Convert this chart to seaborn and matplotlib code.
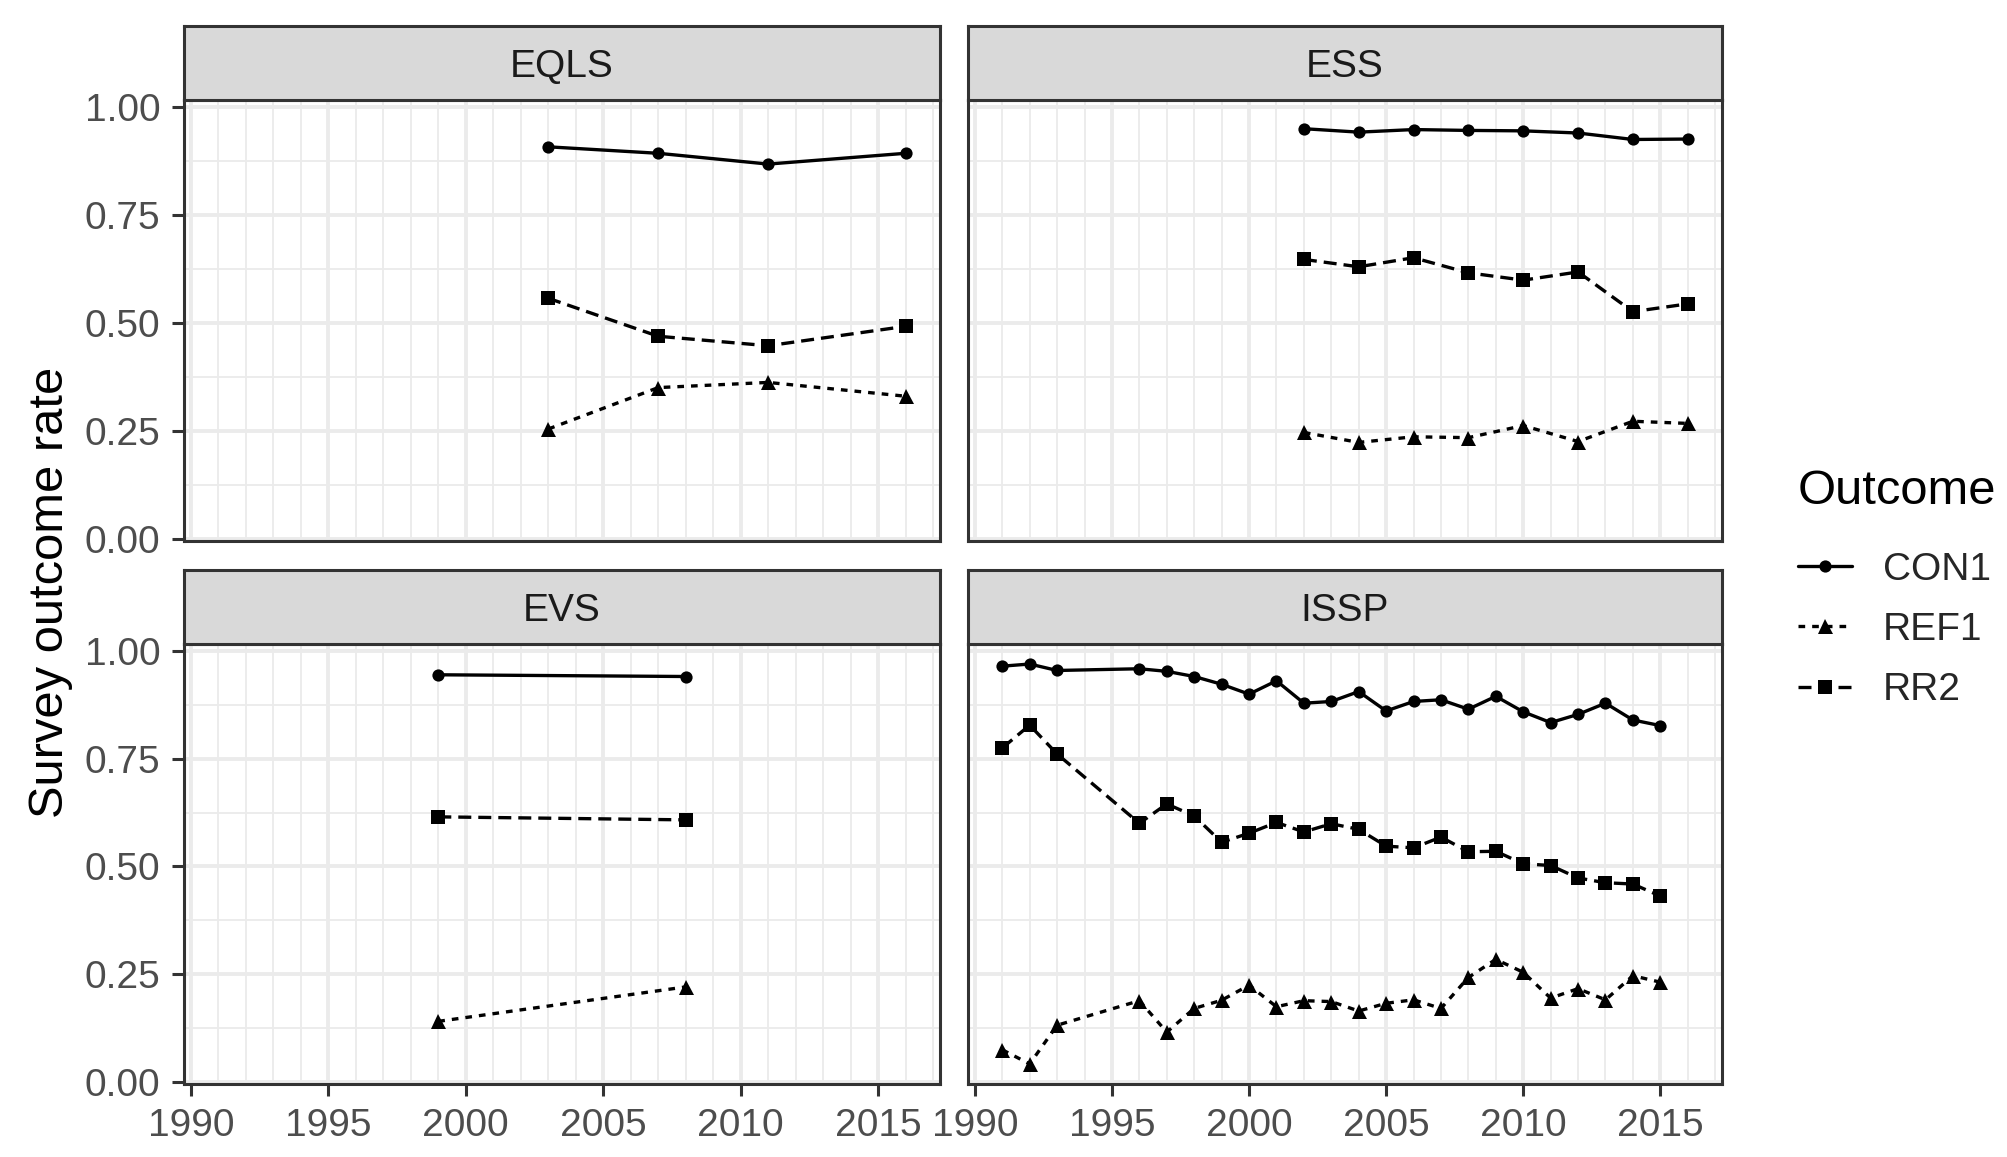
import numpy as np
import pandas as pd
import matplotlib
matplotlib.use("Agg")
import matplotlib.pyplot as plt
import seaborn as sns
from matplotlib.ticker import MultipleLocator, FixedLocator
from matplotlib.lines import Line2D

# valores
eqls_years = [2003, 2007, 2011, 2016]
eqls_con1 = [0.908, 0.893, 0.868, 0.893]
eqls_ref1 = [0.254, 0.350, 0.362, 0.330]
eqls_rr2 = [0.557, 0.469, 0.447, 0.492]

ess_years = [2002, 2004, 2006, 2008, 2010, 2012, 2014, 2016]
ess_con1 = [0.950, 0.942, 0.948, 0.946, 0.945, 0.940, 0.925, 0.926]
ess_ref1 = [0.246, 0.223, 0.236, 0.234, 0.262, 0.225, 0.272, 0.267]
ess_rr2 = [0.647, 0.630, 0.651, 0.616, 0.599, 0.618, 0.526, 0.544]

evs_years = [1999, 2008]
evs_con1 = [0.945, 0.941]
evs_ref1 = [0.140, 0.220]
evs_rr2 = [0.615, 0.608]

issp_years = [1991, 1992, 1993, 1996, 1997, 1998, 1999, 2000, 2001, 2002, 2003,
              2004, 2005, 2006, 2007, 2008, 2009, 2010, 2011, 2012, 2013, 2014, 2015]
issp_con1 = [0.965, 0.970, 0.955, 0.959, 0.953, 0.941, 0.923, 0.900, 0.931, 0.879, 0.883,
             0.906, 0.861, 0.883, 0.887, 0.865, 0.895, 0.859, 0.834, 0.853, 0.879, 0.840, 0.827]
issp_ref1 = [0.074, 0.041, 0.131, 0.188, 0.115, 0.170, 0.189, 0.224, 0.174, 0.188, 0.186,
             0.164, 0.182, 0.190, 0.170, 0.242, 0.284, 0.254, 0.194, 0.216, 0.190, 0.246, 0.231]
issp_rr2 = [0.775, 0.828, 0.761, 0.600, 0.645, 0.617, 0.556, 0.577, 0.602, 0.580, 0.599,
            0.586, 0.547, 0.543, 0.568, 0.534, 0.535, 0.506, 0.502, 0.473, 0.462, 0.459, 0.431]

surveys = ["EQLS", "ESS", "EVS", "ISSP"]
outcomes = ["CON1", "REF1", "RR2"]

series = {
    "EQLS": (eqls_years, eqls_con1, eqls_ref1, eqls_rr2),
    "ESS": (ess_years, ess_con1, ess_ref1, ess_rr2),
    "EVS": (evs_years, evs_con1, evs_ref1, evs_rr2),
    "ISSP": (issp_years, issp_con1, issp_ref1, issp_rr2),
}

linhas = []
for s in surveys:
    anos, con1, ref1, rr2 = series[s]
    for nome, vals in zip(outcomes, [con1, ref1, rr2]):
        for a, v in zip(anos, vals):
            linhas.append({"Survey": s, "Year": a, "Rate": v, "Outcome": nome})
dados = pd.DataFrame(linhas)

sns.set_style("white")
plt.rcParams["font.family"] = ["Liberation Sans", "DejaVu Sans"]

W, H = 2008, 1157
fig = plt.figure(figsize=(W / 200, H / 200), dpi=200)


def caixa(x0, y0, x1, y1):
    return [x0 / W, 1 - y1 / H, (x1 - x0) / W, (y1 - y0) / H]


paineis = {
    "EQLS": (184, 100, 940, 541),
    "ESS": (968, 100, 1722, 541),
    "EVS": (184, 644, 940, 1084),
    "ISSP": (968, 644, 1722, 1084),
}

marcadores = {"CON1": "o", "REF1": "^", "RR2": "s"}
tracos = {"CON1": "", "REF1": (2.0, 2.1), "RR2": (3.9, 2.1)}
tamanhos = {"CON1": 4.4, "REF1": 5.4, "RR2": 4.8}
borda = "#333333"

for s in surveys:
    x0, y0, x1, y1 = paineis[s]
    ax = fig.add_axes(caixa(x0, y0, x1, y1))
    sub = dados[dados["Survey"] == s]

    for o in outcomes:
        d = sub[sub["Outcome"] == o]
        sns.lineplot(data=d, x="Year", y="Rate", color="black", linewidth=1.2,
                     marker=marcadores[o], markersize=tamanhos[o],
                     markeredgewidth=0, markeredgecolor="black",
                     dashes=False, legend=False, ax=ax)
        if tracos[o]:
            ax.lines[-1].set_dashes(tracos[o])

    ax.set_xlim(1989.75, 2017.25)
    ax.set_ylim(-0.0055, 1.0165)
    ax.xaxis.set_major_locator(FixedLocator([1990, 1995, 2000, 2005, 2010, 2015]))
    ax.xaxis.set_minor_locator(MultipleLocator(1))
    ax.yaxis.set_major_locator(FixedLocator([0, 0.25, 0.5, 0.75, 1.0]))
    ax.yaxis.set_minor_locator(FixedLocator([0.125, 0.375, 0.625, 0.875]))
    ax.set_axisbelow(True)
    ax.grid(which="major", color="#EBEBEB", linewidth=1.4)
    ax.grid(which="minor", color="#EBEBEB", linewidth=0.65)
    for sp in ax.spines.values():
        sp.set_color(borda)
        sp.set_linewidth(1.1)
    ax.tick_params(which="major", length=4.3, width=1.1, color=borda,
                   labelsize=14, labelcolor="#4D4D4D", pad=4.2)
    ax.tick_params(which="minor", length=0)
    ax.set_xlabel("")
    ax.set_ylabel("")
    if s in ["EQLS", "EVS"]:
        ax.set_yticklabels(["0.00", "0.25", "0.50", "0.75", "1.00"])
        ax.tick_params(axis="y", left=True)
    else:
        ax.tick_params(axis="y", left=False, labelleft=False)
    if s in ["EVS", "ISSP"]:
        ax.set_xticklabels(["1990", "1995", "2000", "2005", "2010", "2015"])
        ax.tick_params(axis="x", bottom=True)
    else:
        ax.tick_params(axis="x", bottom=False, labelbottom=False)

    # faixa do titulo do painel
    faixa = fig.add_axes(caixa(x0, y0 - 74, x1, y0))
    faixa.set_facecolor("#D9D9D9")
    faixa.set_xticks([])
    faixa.set_yticks([])
    for sp in faixa.spines.values():
        sp.set_color(borda)
        sp.set_linewidth(1.1)
    faixa.text(0.5, 0.45, s, ha="center", va="center", fontsize=14,
               color="#1A1A1A", transform=faixa.transAxes)

fig.text(51 / W, 1 - 592 / H, "Survey outcome rate", rotation=90,
         ha="center", va="center", fontsize=17.6, color="black")

# legenda
fig.text(1798 / W, 1 - 492 / H, "Outcome", ha="left", va="center",
         fontsize=17.6, color="black")
alcas = [Line2D([], [], color="black", linewidth=1.2, marker=marcadores[o],
                markersize=tamanhos[o], markeredgewidth=0,
                linestyle="-" if not tracos[o] else (0, tracos[o]))
         for o in outcomes]
leg = fig.legend(alcas, outcomes, loc="center left",
                 bbox_to_anchor=(1782 / W, 1 - 630 / H), frameon=False,
                 fontsize=14, handlelength=1.4,
                 handletextpad=0.8, labelspacing=0.62, borderaxespad=0)

fig.savefig("out.png", dpi=200)
